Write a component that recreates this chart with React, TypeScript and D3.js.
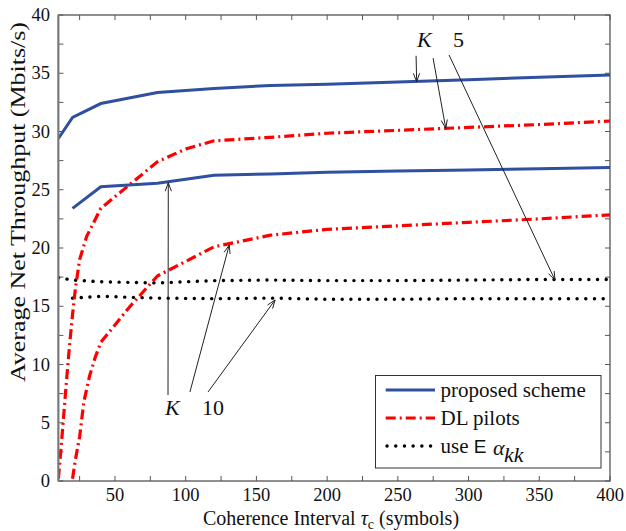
import React from "react";
import * as d3 from "d3";

const W = 626;
const H = 531;

// ---- data ----
const blueK5X = [10, 20, 40, 80, 120, 160, 200, 250, 300, 350, 400];
const blueK5Y = [29.4, 31.2, 32.4, 33.35, 33.7, 33.95, 34.05, 34.25, 34.45, 34.65, 34.85];
const blueK10X = [20, 40, 80, 120, 160, 200, 250, 300, 350, 400];
const blueK10Y = [23.4, 25.25, 25.55, 26.25, 26.35, 26.5, 26.6, 26.7, 26.8, 26.9];
const redK5X = [10, 12, 14, 16, 18, 20, 22, 25, 30, 40, 60, 80, 100, 120, 160, 200, 250, 300, 350, 400];
const redK5Y = [0.2, 3, 6, 9, 11.8, 14.3, 16.5, 19, 21, 23.4, 25.4, 27.4, 28.5, 29.2, 29.5, 29.85, 30.1, 30.35, 30.6, 30.9];
const redK10X = [20, 22, 25, 28, 32, 36, 40, 50, 60, 80, 120, 160, 200, 250, 300, 350, 400];
const redK10Y = [0.2, 1.8, 3.8, 6.8, 9, 10.6, 11.9, 13.4, 14.9, 17.6, 20.1, 21.1, 21.6, 21.9, 22.2, 22.5, 22.85];
const dotK5X = [10, 20, 40, 80, 120, 160, 200, 250, 300, 350, 400];
const dotK5Y = [17.45, 17.25, 17.1, 17.0, 17.2, 17.25, 17.2, 17.2, 17.25, 17.3, 17.3];
const dotK10X = [20, 40, 80, 120, 160, 200, 250, 300, 350, 400];
const dotK10Y = [15.7, 15.85, 15.7, 15.65, 15.7, 15.6, 15.6, 15.65, 15.65, 15.65];

const xTickLabels = [50, 100, 150, 200, 250, 300, 350, 400];
const yTickLabels = [0, 5, 10, 15, 20, 25, 30, 35, 40];

const legendLabels = ["proposed scheme", "DL pilots", "use E"];

// annotation arrows in data coordinates: [x0, y0, x1, y1]
const arrowsK5 = [
  [262.9, 36.5, 263.3, 34.27],
  [274.9, 36.3, 283.9, 30.27],
  [286.2, 36.57, 361.1, 17.25],
];
const arrowsK10 = [
  [87.5, 7.38, 87.7, 25.6],
  [103, 7.64, 130.8, 20.26],
  [115.8, 7.64, 163.2, 15.54],
];
const annK5 = { k: [263.6, 37.25], n: [289, 37.25], text: "5" };
const annK10 = { k: [85.4, 5.67], n: [111.5, 5.67], text: "10" };

const M = { left: 58.4, right: 610, top: 15, bottom: 481 };

export default function App() {
  const x = d3.scaleLinear().domain([10, 400]).range([M.left, M.right]);
  const y = d3.scaleLinear().domain([0, 40]).range([M.bottom, M.top]);
  const line = d3
    .line<[number, number]>()
    .x((d) => x(d[0]))
    .y((d) => y(d[1]));
  const zip = (a: number[], b: number[]) => a.map((v, i) => [v, b[i]] as [number, number]);

  const blue = "#2f4f9f";
  const red = "#ff0000";
  const axisC = "#555";
  const serif = "'Liberation Serif', 'Times New Roman', serif";

  const xMinor = d3.range(25, 401, 25);
  const yMinor = d3.range(0, 40.01, 2.5);
  const tl = 5;

  const arrow = (a: number[], key: string) => {
    const x0 = x(a[0]), y0 = y(a[1]), x1 = x(a[2]), y1 = y(a[3]);
    const ang = Math.atan2(y1 - y0, x1 - x0);
    const hl = 9, ha = 0.35;
    const p1 = [x1 - hl * Math.cos(ang - ha), y1 - hl * Math.sin(ang - ha)];
    const p2 = [x1 - hl * Math.cos(ang + ha), y1 - hl * Math.sin(ang + ha)];
    return (
      <g key={key} stroke="#222" strokeWidth={1} fill="none">
        <line x1={x0} y1={y0} x2={x1} y2={y1} />
        <polyline points={`${p1[0]},${p1[1]} ${x1},${y1} ${p2[0]},${p2[1]}`} />
      </g>
    );
  };

  const legX = 375.5, legY = 375.5, legW = 225.5, legH = 92.5;
  const legRows = [390, 418, 446];

  return (
    <svg
      width={W}
      height={H}
      style={{ position: "absolute", left: 0, top: 0, background: "#fff" }}
      fontFamily={serif}
    >
      <defs>
        <clipPath id="plot">
          <rect x={M.left} y={M.top} width={M.right - M.left} height={M.bottom - M.top} />
        </clipPath>
      </defs>
      <rect width={W} height={H} fill="#fff" />

      {/* ticks */}
      <g stroke={axisC} strokeWidth={1}>
        {xMinor.filter((v) => v > 10).map((v) => (
          <g key={"xt" + v}>
            <line x1={x(v)} x2={x(v)} y1={M.bottom} y2={M.bottom - tl} />
            <line x1={x(v)} x2={x(v)} y1={M.top} y2={M.top + tl} />
          </g>
        ))}
        {yMinor.map((v) => (
          <g key={"yt" + v}>
            <line x1={M.left} x2={M.left + tl} y1={y(v)} y2={y(v)} />
            <line x1={M.right} x2={M.right - tl} y1={y(v)} y2={y(v)} />
          </g>
        ))}
      </g>

      {/* curves */}
      <g clipPath="url(#plot)" fill="none">
        <path d={line(zip(dotK5X, dotK5Y)) || ""} stroke="#000" strokeWidth={3.4} strokeDasharray="0.1 8.6" strokeLinecap="round" />
        <path d={line(zip(dotK10X, dotK10Y)) || ""} stroke="#000" strokeWidth={3.4} strokeDasharray="0.1 8.6" strokeLinecap="round" />
        <path d={line(zip(redK5X, redK5Y)) || ""} stroke={red} strokeWidth={3.2} strokeDasharray="10 4 2 4" />
        <path d={line(zip(redK10X, redK10Y)) || ""} stroke={red} strokeWidth={3.2} strokeDasharray="10 4 2 4" />
        <path d={line(zip(blueK5X, blueK5Y)) || ""} stroke={blue} strokeWidth={3} />
        <path d={line(zip(blueK10X, blueK10Y)) || ""} stroke={blue} strokeWidth={3} />
      </g>

      {/* box */}
      <rect x={M.left} y={M.top} width={M.right - M.left} height={M.bottom - M.top} fill="none" stroke={axisC} strokeWidth={1.3} />
      <line x1={M.left} x2={M.left} y1={M.top} y2={M.bottom} stroke="#777" strokeWidth={2} />

      {/* tick labels */}
      <g fontSize={18.5} fill="#111">
        {xTickLabels.map((v) => (
          <text key={"xl" + v} x={x(v)} y={501} textAnchor="middle">{v}</text>
        ))}
        {yTickLabels.map((v) => (
          <text key={"yl" + v} x={50} y={y(v) + 6} textAnchor="end">{v}</text>
        ))}
      </g>

      {/* axis titles */}
      <text x={331} y={525} textAnchor="middle" fontSize={20} fill="#111">
        Coherence Interval{" "}
        <tspan fontStyle="italic">τ</tspan>
        <tspan fontSize={14} dy={4}>c</tspan>
        <tspan dy={-4}> (symbols)</tspan>
      </text>
      <text
        transform={`translate(25,${202}) rotate(-90)`}
        textAnchor="middle"
        fontSize={20.5}
        textLength={360}
        lengthAdjust="spacingAndGlyphs"
        fill="#111"
      >
        Average Net Throughput (Mbits/s)
      </text>

      {/* annotations */}
      {arrowsK5.map((a, i) => arrow(a, "a5" + i))}
      {arrowsK10.map((a, i) => arrow(a, "a10" + i))}
      <g fontSize={22} fill="#111">
        <text x={x(annK5.k[0])} y={y(annK5.k[1])} fontStyle="italic">K</text>
        <text x={x(annK5.n[0])} y={y(annK5.n[1])}>{annK5.text}</text>
        <text x={x(annK10.k[0])} y={y(annK10.k[1])} fontStyle="italic">K</text>
        <text x={x(annK10.n[0])} y={y(annK10.n[1])}>{annK10.text}</text>
      </g>

      {/* legend */}
      <rect x={legX} y={legY} width={legW} height={legH} fill="#fff" stroke="#333" strokeWidth={1} />
      <line x1={385.7} x2={435} y1={legRows[0]} y2={legRows[0]} stroke={blue} strokeWidth={3} />
      <line x1={385.7} x2={435} y1={legRows[1]} y2={legRows[1]} stroke={red} strokeWidth={3.2} strokeDasharray="10 4 2 4" />
      <line x1={387} x2={435} y1={legRows[2]} y2={legRows[2]} stroke="#000" strokeWidth={3.4} strokeDasharray="0.1 8.6" strokeLinecap="round" />
      <g fontSize={21} fill="#111">
        <text x={440.5} y={legRows[0] + 7}>{legendLabels[0]}</text>
        <text x={440.5} y={legRows[1] + 7}>{legendLabels[1]}</text>
        <text x={440.5} y={legRows[2] + 7}>
          {legendLabels[2].replace(" E", " ")}
          <tspan fontFamily="'Liberation Sans', Arial, sans-serif" fontSize={19}>E</tspan>
        </text>
        <text x={493} y={legRows[2] + 9} fontStyle="italic" fontSize={22}>α</text>
        <text x={504} y={legRows[2] + 16} fontStyle="italic" fontSize={22}>kk</text>
      </g>
    </svg>
  );
}
